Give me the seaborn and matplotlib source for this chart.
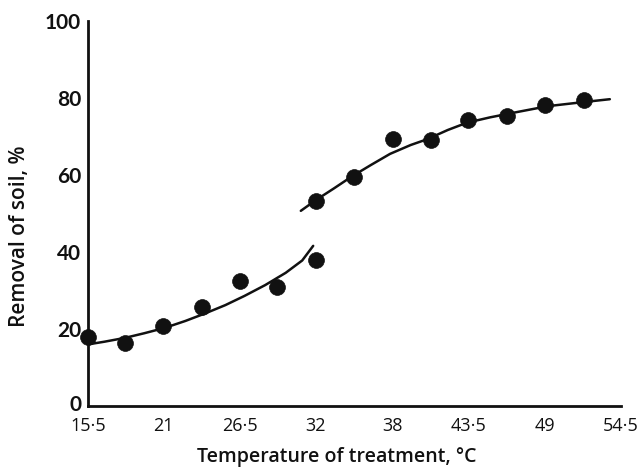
import matplotlib
matplotlib.use("Agg")
import matplotlib.pyplot as plt
import matplotlib.transforms as mtransforms
import seaborn as sns
import pandas as pd

# Measured soil removal at each treatment temperature (°C)
temps_c = [15.6, 18.3, 21.1, 23.9, 26.7, 29.4, 32.2, 32.2, 35.0, 37.8, 40.6, 43.3, 46.1, 48.9, 51.7]
removal = [17.8, 16.3, 20.9, 25.6, 32.5, 30.8, 37.9, 53.2, 59.6, 69.4, 69.1, 74.3, 75.3, 78.2, 79.5]

# Fitted curve below the transition
low_curve_t = [15.6, 16.8, 18.3, 19.7, 21.2, 22.7, 24.1, 25.6, 27.0, 28.5, 30.0, 31.2, 32.0]
low_curve_r = [16.0, 16.7, 17.7, 18.9, 20.3, 22.1, 24.0, 26.2, 28.6, 31.4, 34.6, 37.8, 41.6]

# Fitted curve above the transition
high_curve_t = [31.1, 32.2, 33.5, 34.8, 36.2, 37.6, 39.1, 40.3, 41.8, 43.2, 44.9, 46.9, 49.1, 51.8, 53.6]
high_curve_r = [50.7, 53.5, 56.5, 59.6, 62.6, 65.5, 67.8, 69.3, 71.7, 73.6, 75.0, 76.4, 77.9, 79.0, 79.7]

# Axis ticks
x_ticks = [15.6, 21.1, 26.7, 32.2, 37.8, 43.3, 48.9, 54.4]
x_tick_labels = ["15·5", "21", "26·5", "32", "38", "43·5", "49", "54·5"]
y_ticks = [0, 20, 40, 60, 80, 100]

sns.set_theme(style="white")
plt.rcParams["font.family"] = ["Open Sans", "DejaVu Sans"]

fig = plt.figure(figsize=(6.42, 4.68), dpi=100)
ax = fig.add_axes([0.137, 0.1325, 0.830, 0.8225])

ink = "#111111"

points = pd.DataFrame({"t": temps_c, "r": removal})
low = pd.DataFrame({"t": low_curve_t, "r": low_curve_r})
high = pd.DataFrame({"t": high_curve_t, "r": high_curve_r})

for curve in (low, high):
    sns.lineplot(data=curve, x="t", y="r", ax=ax, color=ink, linewidth=1.8,
                 sort=False, estimator=None, zorder=3)

sns.scatterplot(data=points, x="t", y="r", ax=ax, color=ink, s=130,
                edgecolor=ink, linewidth=0.5, zorder=5, clip_on=False)

ax.set_xlim(x_ticks[0], x_ticks[-1])
ax.set_ylim(0, 100)
ax.set_xticks(x_ticks)
ax.set_xticklabels(x_tick_labels)
ax.set_yticks(y_ticks)

for side in ("top", "right"):
    ax.spines[side].set_visible(False)
for side in ("left", "bottom"):
    ax.spines[side].set_linewidth(2.0)
    ax.spines[side].set_color(ink)

ax.tick_params(axis="both", direction="in", length=8.5, width=1.8, color=ink)
ax.tick_params(axis="x", pad=8, labelsize=13, labelcolor=ink)
ax.tick_params(axis="y", pad=5, labelcolor=ink)
for lab in ax.get_yticklabels():
    lab.set_family(["Lato", "DejaVu Sans"])
    lab.set_fontweight("bold")
    lab.set_fontsize(15)

# Lift the "0" label slightly so it sits clear of the first x label
zero_label = ax.get_yticklabels()[0]
zero_label.set_transform(zero_label.get_transform()
                         + mtransforms.ScaledTranslation(0, 0.03, fig.dpi_scale_trans))

ax.set_xlabel("Temperature of treatment, °C", fontsize=14, color=ink,
              fontweight="semibold")
ax.set_ylabel("Removal of soil, %", fontsize=15, color=ink,
              fontweight="semibold")
ax.xaxis.set_label_coords(0.467, -0.107)
ax.yaxis.set_label_coords(-0.108, 0.44)

fig.savefig("out.png", dpi=100, facecolor="white")
